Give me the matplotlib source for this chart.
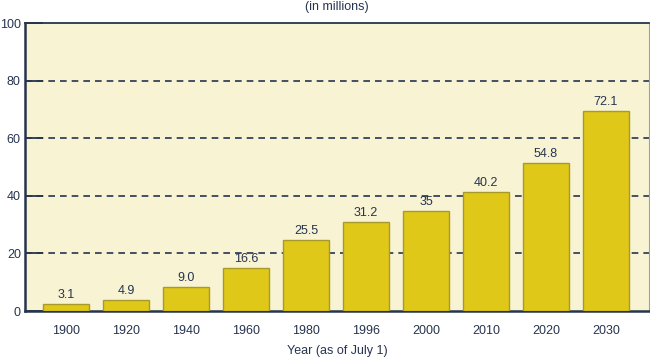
import matplotlib
matplotlib.use('Agg')
import matplotlib.pyplot as plt

# data
years = ['1900', '1920', '1940', '1960', '1980', '1996', '2000', '2010', '2020', '2030']
heights = [2.4, 3.8, 8.2, 14.9, 24.6, 30.9, 34.7, 41.3, 51.4, 69.4]
labels = ['3.1', '4.9', '9.0', '16.6', '25.5', '31.2', '35', '40.2', '54.8', '72.1']

navy = '#27344f'
plt.rcParams['font.family'] = ['Liberation Sans', 'DejaVu Sans']
fs = 9

fig = plt.figure(figsize=(6.5, 3.58), dpi=100)
ax = fig.add_axes([25 / 650, 1 - 311 / 358, 624 / 650, 288 / 358])
ax.set_facecolor('#f8f3d3')

x = range(len(years))
bars = ax.bar(x, heights, width=0.767, color='#dfc818', edgecolor='#a89a2a',
              linewidth=1, zorder=3)
for b, t in zip(bars, labels):
    ax.text(b.get_x() + b.get_width() / 2, b.get_height() + 1.2, t,
            ha='center', va='bottom', fontsize=fs, color=navy, zorder=4)

ax.set_xlim(-0.683, 9.717)
ax.set_ylim(0, 100)
ax.set_yticks([0, 20, 40, 60, 80, 100])
ax.set_xticks(list(x))
ax.set_xticklabels(years)
ax.tick_params(axis='y', direction='in', length=13, width=1.3, color=navy,
               labelcolor=navy, labelsize=fs, pad=3)
ax.tick_params(axis='x', length=0, labelcolor=navy, labelsize=fs, pad=10)

for v in [20, 40, 60, 80]:
    ax.axhline(v, color=navy, linestyle=(0, (4, 3)), linewidth=1.2, zorder=1)

for s in ['left', 'bottom']:
    ax.spines[s].set_color(navy)
    ax.spines[s].set_linewidth(1.8)
ax.spines['top'].set_color(navy)
ax.spines['top'].set_linewidth(1.3)
ax.spines['right'].set_color('#9aa0aa')
ax.spines['right'].set_linewidth(0.8)

fig.text(337 / 650, 1 - 7 / 358, '(in millions)', ha='center', va='center',
         fontsize=fs, color=navy)
ax.set_xlabel('Year (as of July 1)', fontsize=fs, color=navy, labelpad=6)

fig.savefig('out.png', dpi=100)
